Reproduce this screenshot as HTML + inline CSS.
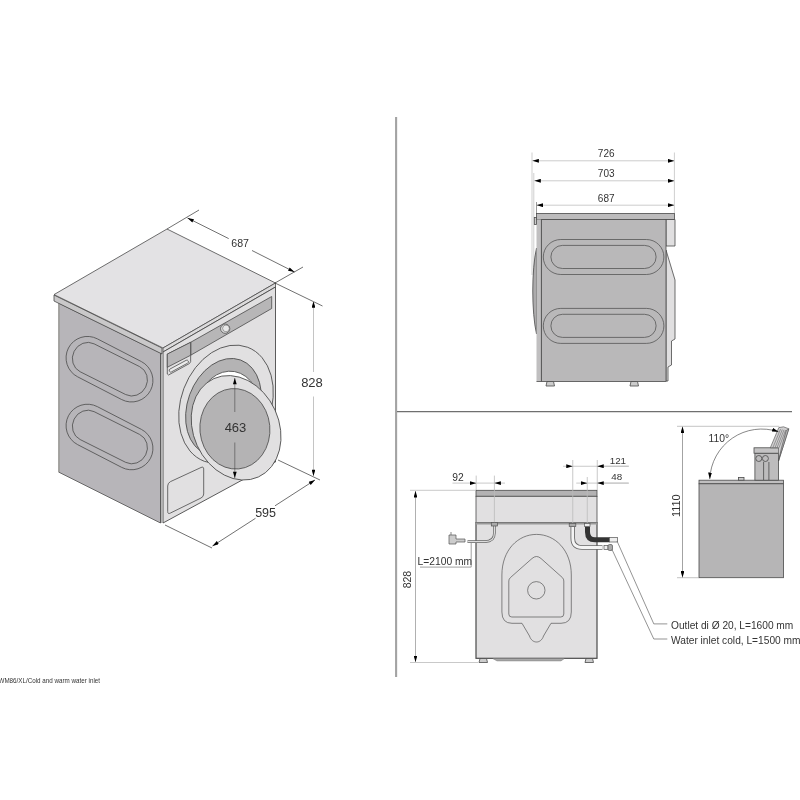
<!DOCTYPE html>
<html><head><meta charset="utf-8">
<style>
html,body{margin:0;padding:0;background:#fff;}
svg{display:block;will-change:transform;}
text{font-family:"Liberation Sans",sans-serif;fill:#333;}
</style></head>
<body>
<svg width="800" height="800" viewBox="0 0 800 800">
<defs>
<marker id="ar" viewBox="0 0 10 6" refX="10" refY="3" markerWidth="6.5" markerHeight="3.9" orient="auto-start-reverse" markerUnits="userSpaceOnUse"><path d="M0,0 L10,3 L0,6 Z" fill="#000"/></marker>
<marker id="ai" viewBox="0 0 10 6" refX="10" refY="3" markerWidth="7.8" markerHeight="3.8" orient="auto-start-reverse" markerUnits="userSpaceOnUse"><path d="M0,0 L10,3 L0,6 Z" fill="#000"/></marker>
</defs>
<rect width="800" height="800" fill="#fff"/>

<!-- ============ ISO VIEW ============ -->
<g id="iso" stroke="#4a4a4a" stroke-width="0.8" stroke-linejoin="round">
  <!-- side panel -->
  <polygon points="58.5,303 160.5,353 160.5,523 58.5,472" fill="#b7b5b9" stroke="none"/>
  <path d="M58.5,303 L160.5,353 L160.5,523 L58.5,472" fill="none"/>
  <line x1="59" y1="303" x2="59" y2="472" stroke="#a09f9c" stroke-width="1.8"/>
  <!-- slab left face -->
  <polygon points="54,295 162,348 162,354 54,301" fill="#c9c8c9"/>
  <!-- top -->
  <polygon points="167,229 275.5,283 163,348 54,294.6" fill="#e3e2e4"/>
  <!-- slab front -->
  <polygon points="163,348 275.5,283 275.5,287 163,352" fill="#dcdbdc"/>
  <!-- front face -->
  <polygon points="163,352 275.5,287 275.5,462 163,523" fill="#e1e0e1" stroke="none"/>
  <path d="M163,523 L163,352 L275.5,287 M275.5,287 L275.5,462 L163,523" fill="none" stroke-width="0.9"/>
  <line x1="161" y1="353" x2="161" y2="523"/>
  <!-- side stadiums -->
  <g fill="none" stroke="#555" stroke-width="0.8">
    <rect x="-46.2" y="-21.4" width="92.4" height="42.8" rx="21.4" transform="translate(109.5,369.2) rotate(27.3)"/>
    <rect x="-40" y="-15.6" width="80" height="31.2" rx="14.5" ry="15.6" transform="translate(109.9,369.2) rotate(26.6)"/>
    <rect x="-46.2" y="-21.4" width="92.4" height="42.8" rx="21.4" transform="translate(109.5,437) rotate(27.3)"/>
    <rect x="-40" y="-15.6" width="80" height="31.2" rx="14.5" ry="15.6" transform="translate(109.9,437) rotate(26.6)"/>
  </g>
  <!-- control panel -->
  <polygon points="190.65,342.3 271.7,296.5 271.7,308.5 190.65,355.25" fill="#b7b6b7"/>
  <polygon points="167.3,354.1 190.65,342.3 190.65,361.6 189.5,363.5 168.5,375 167.3,374" fill="#e1e0e1"/>
  <polygon points="167.3,354.1 190.65,342.3 190.65,355.25 167.3,367.3" fill="#b7b6b7"/>
  <rect x="-10.7" y="-1.6" width="21.4" height="3.2" rx="1.5" transform="translate(178.8,366.1) rotate(-28.4)" fill="#ececec" stroke-width="0.7"/>
  <circle cx="225.2" cy="328.7" r="4.6" fill="#e3e3e3"/><circle cx="226" cy="328.4" r="3.4" fill="#e8e8e8" stroke-width="0.5"/>
  <!-- kick panel -->
  <path d="M167.7,486 Q167.7,483 170.5,481.6 L201,467.5 Q203.7,466.2 203.7,469 L203.7,494 Q203.7,496.7 201,498 L170.5,513 Q167.7,514.5 167.7,511.5 Z" fill="#e1e0e1"/>
  <!-- door frame ring -->
  <ellipse cx="226" cy="404.3" rx="45" ry="61" transform="rotate(20.8 226 404.3)" fill="#e1e0e1"/>
  <ellipse cx="223.5" cy="407" rx="36" ry="50" transform="rotate(20 223.5 407)" fill="#b4b3b4"/>
  <ellipse cx="228" cy="409" rx="31" ry="38" transform="rotate(10 228 409)" fill="#fff"/>
  <!-- door -->
  <ellipse cx="236.1" cy="427.8" rx="42.8" ry="54" transform="rotate(-24.4 236.1 427.8)" fill="#e1e0e1"/>
  <ellipse cx="234.9" cy="428.8" rx="35" ry="40.3" transform="rotate(-5.4 234.9 428.8)" fill="#b4b3b4"/>
</g>
<!-- iso dims -->
<g stroke="#333" stroke-width="0.7" fill="none">
  <line x1="167" y1="229" x2="199" y2="210"/>
  <line x1="275" y1="283" x2="303" y2="267"/>
  <line x1="187.5" y1="218" x2="228.7" y2="238.6" marker-start="url(#ai)"/>
  <line x1="252" y1="250.5" x2="294.5" y2="272" marker-end="url(#ai)"/>
  <line x1="275" y1="283" x2="322.5" y2="306"/>
  <line x1="278" y1="460" x2="320" y2="480"/>
  <line x1="313.5" y1="301.3" x2="313.5" y2="372" stroke="#c4c4c4" stroke-width="1" marker-start="url(#ai)"/>
  <line x1="313.5" y1="396.5" x2="313.5" y2="476" stroke="#c4c4c4" stroke-width="1" marker-end="url(#ai)"/>
  <line x1="165" y1="525" x2="212" y2="548"/>
  <line x1="212.5" y1="546" x2="255.5" y2="518.3" marker-start="url(#ai)"/>
  <line x1="275" y1="505.8" x2="315" y2="480" marker-end="url(#ai)"/>
  <line x1="234.8" y1="378" x2="234.8" y2="412" stroke-width="0.5" marker-start="url(#ai)"/>
  <line x1="234.8" y1="442.5" x2="234.8" y2="478" stroke-width="0.5" marker-end="url(#ai)"/>
</g>
<text x="240.1" y="247.1" font-size="10.6" text-anchor="middle">687</text>
<text x="312" y="387" font-size="13" text-anchor="middle">828</text>
<text x="235.5" y="431.7" font-size="13" text-anchor="middle">463</text>
<text x="265.6" y="517" font-size="12.5" text-anchor="middle">595</text>

<!-- dividers -->
<line x1="396.1" y1="117" x2="396.1" y2="677" stroke="#a3a3a3" stroke-width="2.1"/>
<line x1="397" y1="411.6" x2="792" y2="411.6" stroke="#6f6f6f" stroke-width="1.1"/>

<!-- ============ SIDE VIEW ============ -->
<g stroke="#cfcfcf" stroke-width="1" fill="none">
  <line x1="532" y1="152.5" x2="532" y2="275"/>
  <line x1="533.8" y1="173" x2="533.8" y2="275"/>
  <line x1="674.4" y1="152.5" x2="674.4" y2="213"/>
  <line x1="532.4" y1="160.8" x2="674.4" y2="160.8" stroke="#ccc" marker-start="url(#ar)" marker-end="url(#ar)"/>
  <line x1="534.3" y1="180.8" x2="674.4" y2="180.8" stroke="#ccc" marker-start="url(#ar)" marker-end="url(#ar)"/>
  <line x1="536.5" y1="205.2" x2="674.4" y2="205.2" stroke="#ccc" marker-start="url(#ar)" marker-end="url(#ar)"/>
</g>
<line x1="536.5" y1="202" x2="536.5" y2="213" stroke="#555" stroke-width="0.6"/>
<text x="606.2" y="157" font-size="10" text-anchor="middle">726</text>
<text x="606.2" y="177" font-size="10" text-anchor="middle">703</text>
<text x="606.2" y="201.5" font-size="10" text-anchor="middle">687</text>
<g stroke="#4a4a4a" stroke-width="0.8">
  <path d="M666,219.5 L675,219.5 L675,246 L666,246 Z" fill="#e0dfe0"/>
  <path d="M666,250 L675,280 L675,339 L671.5,341 L671.5,365 L668,367 L668,381 L666,381 Z" fill="#e0dfe0"/>
  <path d="M536.5,248 C531.5,270 531.5,312 536.5,334 Z" fill="#acabac"/>
  <rect x="536.5" y="213.5" width="138" height="6" fill="#bdbcbd"/>
  <rect x="541.4" y="219.5" width="124.6" height="162" fill="#b9b8b9"/>
  <rect x="536.5" y="219.5" width="4.9" height="162" fill="#c0bfc0" stroke="none"/><line x1="541.4" y1="219.5" x2="541.4" y2="381.5"/><line x1="536.5" y1="381.5" x2="541.4" y2="381.5"/>
  <rect x="534.3" y="217.4" width="2.2" height="7" fill="#ccc"/>
  <path d="M547,381.5 L553.5,381.5 L554.5,386 L546,386 Z" fill="#ccc"/>
  <path d="M631,381.5 L637.5,381.5 L638.5,386 L630,386 Z" fill="#ccc"/>
</g>
<g fill="none" stroke="#555" stroke-width="0.8">
  <rect x="543.3" y="239.5" width="120.6" height="35" rx="17.5"/>
  <rect x="550.9" y="245.4" width="105.2" height="23.1" rx="11.5"/>
  <rect x="543.3" y="308.4" width="120.6" height="35" rx="17.5"/>
  <rect x="550.9" y="314.3" width="105.2" height="23.1" rx="11.5"/>
</g>

<!-- ============ BACK VIEW ============ -->
<g stroke="#4a4a4a" stroke-width="0.8">
  <rect x="476" y="490.3" width="121" height="6" fill="#b3b2b3"/>
  <rect x="476" y="496.3" width="121" height="26.5" fill="#e1e0e1"/>
  <rect x="476" y="522.8" width="121" height="135.5" fill="#e1e0e1" stroke-width="1.2"/>
  <line x1="476" y1="523.5" x2="597" y2="523.5" stroke="#999" stroke-width="2"/>
  <path d="M480,658.5 L486.5,658.5 L487.5,662.5 L479,662.5 Z" fill="#ccc"/>
  <path d="M586,658.5 L592.5,658.5 L593.5,662.5 L585,662.5 Z" fill="#ccc"/>
  <path d="M492.8,658.6 L564.3,658.6 L561,660.9 L497,660.9 Z" fill="#acacac" stroke="#777" stroke-width="0.5"/>
</g>
<g fill="none" stroke="#555" stroke-width="0.7">
  <path d="M501.9,575 C501.9,550 518,534.4 536.5,534.4 C555,534.4 571.3,550 571.3,575 L571.3,612 Q571.3,623.3 561,623.3 L551,623.3 L543.5,636 C541,644 532,644 529.5,636 L522,623.3 L512,623.3 Q501.9,623.3 501.9,612 Z"/>
  <path d="M508.8,581 Q508.8,579 510.5,577.5 L532,558.5 Q536.5,554.5 541,558.5 L562.3,577.5 Q563.8,579 563.8,581 L563.8,614 Q563.8,617 560.8,617 L511.8,617 Q508.8,617 508.8,614 Z"/>
  <circle cx="536.3" cy="590.3" r="8.7"/>
</g>
<!-- back dims -->
<g stroke="#bbb" stroke-width="0.8" fill="none">
  <line x1="410" y1="490.3" x2="476" y2="490.3"/>
  <line x1="410" y1="662.5" x2="478" y2="662.5"/>
  <line x1="415.5" y1="491" x2="415.5" y2="662" stroke="#b0b0b0" stroke-width="1" marker-start="url(#ar)" marker-end="url(#ar)"/>
  <line x1="476.2" y1="475.6" x2="476.2" y2="490"/>
  <line x1="494.4" y1="475.6" x2="494.4" y2="523"/>
  <line x1="452.5" y1="483.1" x2="476.2" y2="483.1" marker-end="url(#ar)"/>
  <line x1="494.4" y1="483.1" x2="505" y2="483.1" marker-start="url(#ar)"/>
  <line x1="476.2" y1="483.1" x2="494.4" y2="483.1"/>
  <line x1="572.75" y1="460" x2="572.75" y2="523"/>
  <line x1="587.25" y1="477" x2="587.25" y2="523"/>
  <line x1="597.25" y1="460" x2="597.25" y2="490"/>
  <line x1="563" y1="466.25" x2="572.75" y2="466.25" marker-end="url(#ar)"/>
  <line x1="572.75" y1="466.25" x2="628.75" y2="466.25"/>
  <line x1="597.25" y1="466.25" x2="628.75" y2="466.25" marker-start="url(#ar)"/>
  <line x1="576.25" y1="483.1" x2="587.25" y2="483.1" marker-end="url(#ar)"/>
  <line x1="587.25" y1="483.1" x2="628.75" y2="483.1"/>
  <line x1="597.25" y1="483.1" x2="628.75" y2="483.1" marker-start="url(#ar)"/>
  <line x1="471.2" y1="542" x2="471.2" y2="567.1" stroke="#888"/>
  <line x1="420" y1="567.1" x2="471.2" y2="567.1" stroke="#888"/>
</g>
<text x="458.1" y="480.7" font-size="10.3" text-anchor="middle">92</text>
<text x="617.9" y="464" font-size="9.8" text-anchor="middle">121</text>
<text x="616.7" y="480.1" font-size="9.8" text-anchor="middle">48</text>
<text x="417.6" y="565" font-size="10.1" textLength="54.6" lengthAdjust="spacingAndGlyphs">L=2100 mm</text>
<text transform="translate(411.2,579.6) rotate(-90)" font-size="10.5" text-anchor="middle">828</text>
<!-- cord & hoses -->
<g fill="none" stroke-linecap="butt">
  <path d="M494.4,526 L494.4,533 Q494.4,541.6 485,541.6 L467.5,541.6" stroke="#666" stroke-width="2.6"/>
  <path d="M494.4,526 L494.4,533 Q494.4,541.6 485,541.6 L467.5,541.6" stroke="#ddd" stroke-width="1.2"/>
  <path d="M572.75,526.5 L572.75,538 Q572.75,547.5 582,547.5 L602.5,547.5" stroke="#666" stroke-width="4.5"/>
  <path d="M572.75,526.5 L572.75,538 Q572.75,547.5 582,547.5 L602.5,547.5" stroke="#f4f4f4" stroke-width="2.8"/>
  <path d="M587.5,526.5 L587.5,532 Q587.5,539.8 595,539.8 L609.5,539.8" stroke="#333" stroke-width="5"/>
</g>
<g stroke="#555" stroke-width="0.7">
  <rect x="569.2" y="523.5" width="6.6" height="3" fill="#aaa"/>
  <rect x="584.5" y="523.5" width="5.5" height="3" fill="#eee"/>
  <rect x="491.3" y="522.5" width="6.2" height="3.5" fill="#aaa"/>
  <rect x="609.5" y="537.5" width="8" height="4.5" fill="#eee"/>
  <rect x="604" y="545.5" width="4" height="4" fill="#eee"/>
  <rect x="608" y="544.5" width="4.5" height="6" rx="1.5" fill="#aaa"/>
  <path d="M449,535 L456,535 L456,539 L465,539 L465,542 L456,542 L456,544 L449,544 Z" fill="#ccc"/>
  <line x1="451" y1="535" x2="451" y2="532"/>
</g>
<g stroke="#666" stroke-width="0.7" fill="none">
  <path d="M617,541 L653.8,623.9 L667.3,623.9"/>
  <path d="M612,549.5 L653.8,639 L667.3,639"/>
</g>
<text x="671" y="629" font-size="10.3" textLength="122.3" lengthAdjust="spacingAndGlyphs">Outlet di Ø 20, L=1600 mm</text>
<text x="671" y="643.8" font-size="10.3" textLength="129.5" lengthAdjust="spacingAndGlyphs">Water inlet cold, L=1500 mm</text>

<!-- ============ SMALL BOX ============ -->
<g stroke="#4a4a4a" stroke-width="0.8">
  <rect x="699" y="480.2" width="84.5" height="3.6" fill="#c0bfc0"/>
  <rect x="699" y="483.8" width="84.5" height="93.9" fill="#b6b5b6"/>
  <rect x="754.9" y="453.2" width="23.6" height="27" fill="#bdbcbd"/>
  <rect x="754" y="447.8" width="26.2" height="5.4" fill="#c4c3c4"/>
  <circle cx="758.8" cy="458.5" r="3" fill="#bdbcbd"/>
  <circle cx="765.4" cy="458.5" r="3" fill="#bdbcbd"/>
  <line x1="763.6" y1="462" x2="763.6" y2="480"/>
  <line x1="768.9" y1="462" x2="768.9" y2="480"/>
  <path d="M770.3,447.8 L778.8,427.6 L783.5,426.8 L788.8,428.8 L778.5,461 L778.5,447.8 Z" fill="#d0cfd0" stroke-width="0.6"/>
  <path d="M781.5,447.8 L786.2,430.5 L788.8,428.8 L778.5,461 Z" fill="#b5b4b5" stroke-width="0.6"/>
  <g stroke-width="0.45" fill="none"><line x1="772.8" y1="447.8" x2="780.6" y2="429"/><line x1="775" y1="447.8" x2="782.3" y2="429.5"/><line x1="777" y1="447.8" x2="784" y2="429.8"/><line x1="779" y1="447.8" x2="785.6" y2="430"/></g>
  <rect x="738.5" y="477.5" width="5.5" height="2.7" fill="#ccc"/>
</g>
<g stroke="#555" stroke-width="0.7" fill="none">
  <line x1="677" y1="426.3" x2="779.4" y2="426.3" stroke="#aaa"/>
  <line x1="677" y1="577.7" x2="699" y2="577.7" stroke="#aaa"/>
  <line x1="682.5" y1="426.5" x2="682.5" y2="577.5" stroke="#999" stroke-width="0.9" marker-start="url(#ar)" marker-end="url(#ar)"/>
  <path d="M709.8,479 A52,52 0 0 1 778.5,431.8" marker-start="url(#ar)" marker-end="url(#ar)"/>
</g>
<text x="708.6" y="441.7" font-size="10.3" textLength="20.6" lengthAdjust="spacingAndGlyphs">110°</text>
<text transform="translate(680,505.7) rotate(-90)" font-size="11" text-anchor="middle">1110</text>

<!-- caption -->
<text x="-1.5" y="682.7" font-size="7.2" textLength="101.5" lengthAdjust="spacingAndGlyphs" fill="#444">WM86/XL/Cold and warm water inlet</text>
</svg>
</body></html>
